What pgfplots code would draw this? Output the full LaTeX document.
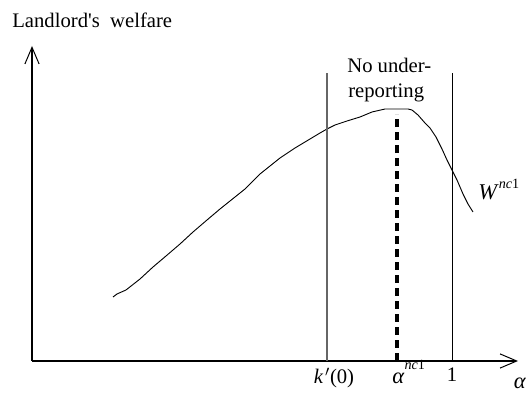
\documentclass[border=0pt]{standalone}
\usepackage{fontspec}
\setmainfont{Liberation Serif}
\usepackage{pgfplots}
\pgfplotsset{compat=1.18}
\usetikzlibrary{arrows.meta}

% pixel-like units: x = px, y = 394 - py
\pgfplotstableread{
x y
113 97
117 100
126 104
140 115
153 127
166 138
180 150
193 162
207 174
220 185
235 197
245 205
260 220
270 228
280 236
295 246
310 255
320 261
327 265
335 269
347 273
360 277
372 282
385 285
396 285
408 285
412 284
418 279
425 271
430 266
436 257
442 245
447 234
452 224
457 214
463 200
468 190
473 182
}\welfare

\begin{document}
\fontsize{12.4}{15}\selectfont
\begin{tikzpicture}
\begin{axis}[
  x=0.6pt, y=0.6pt,
  xmin=32, xmax=518,
  ymin=33, ymax=348,
  axis lines=left,
  axis line style={line width=0.75pt,
    -{Straight Barb[length=10pt,width=8.5pt,line width=0.6pt]}},
  xtick=\empty, ytick=\empty,
  clip=false,
]
\path (axis cs:0,0) rectangle (axis cs:529,394);

% welfare curve
\addplot[black, line width=0.55pt] table[x=x, y=y] {\welfare};

% vertical bounds
\addplot[black!60, line width=0.9pt] coordinates {(327,33) (327,321)};
\addplot[black, line width=0.6pt] coordinates {(452,33) (452,321)};

% optimum
\addplot[black, line width=1.9pt, dash pattern=on 4.8pt off 3pt] coordinates {(397,33) (397,280)};

% labels
\node[anchor=base west, inner sep=0pt] at (axis cs:12,366) {Landlord\textquotesingle s\ \ welfare};
\node[anchor=base west, inner sep=0pt] at (axis cs:347,321) {No under-};
\node[anchor=base west, inner sep=0pt] at (axis cs:348,296) {reporting};
\node[anchor=base west, inner sep=0pt] at (axis cs:478,194)
  {\fontsize{13.5}{15}\selectfont\textit{W}\raisebox{1.1ex}{\fontsize{8.5}{10}\selectfont\textit{nc}1}};
\node[anchor=base, inner sep=0pt] at (axis cs:334,10) {\textit{k}\kern1pt$'$(0)};
\node[anchor=base west, inner sep=0pt] at (axis cs:392,10)
  {\fontsize{13.5}{15}\selectfont\textit{α}\raisebox{1.4ex}{\fontsize{8.5}{10}\selectfont\textit{nc}1}};
\node[anchor=base, inner sep=0pt] at (axis cs:452,12) {1};
\node[anchor=base, inner sep=0pt] at (axis cs:520,5) {\fontsize{13.5}{15}\selectfont\textit{α}};
\end{axis}
\end{tikzpicture}
\end{document}
